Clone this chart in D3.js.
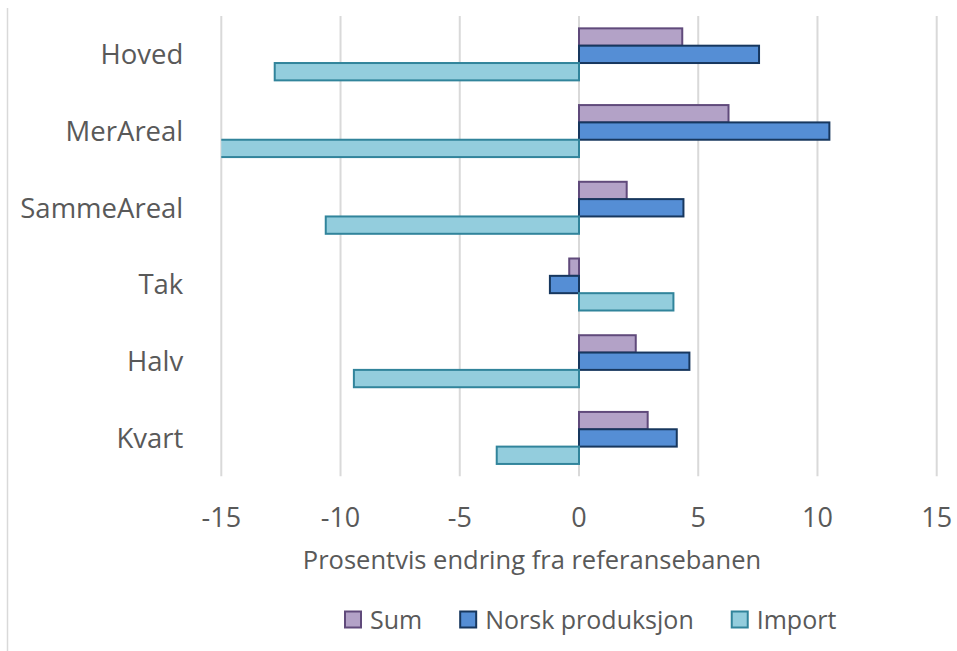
<!DOCTYPE html>
<html>
<head>
<meta charset="utf-8">
<script src="https://cdn.jsdelivr.net/npm/d3@7"></script>
<style>
  html, body { margin: 0; padding: 0; background: #ffffff; }
  svg { display: block; font-family: "Open Sans", Lato, sans-serif; }
  text { fill: #595959; }
</style>
</head>
<body>
<svg id="chart" width="957" height="651"></svg>
<script>
// Scenarios (top to bottom) and their percentage change from the reference path
const categories = ["Hoved", "MerAreal", "SammeAreal", "Tak", "Halv", "Kvart"];
const seriesNames = ["Sum", "Norsk produksjon", "Import"];
const sumValues   = [4.33, 6.27, 2.0, -0.41, 2.38, 2.88];
const norskValues = [7.55, 10.5, 4.38, -1.22, 4.63, 4.1];
const importValues = [-12.76, -15.3, -10.62, 3.96, -9.44, -3.45];
const xTicks = [-15, -10, -5, 0, 5, 10, 15];
const axisTitle = "Prosentvis endring fra referansebanen";

const fills   = ["#b3a2c7", "#558ed5", "#93cddd"];
const strokes = ["#604a7b", "#17375e", "#31849b"];

const svg = d3.select("#chart");
const plot = { left: 221.3, right: 936.7, top: 16, bottom: 476.3 };

const x = d3.scaleLinear().domain([-15, 15]).range([plot.left, plot.right]);
const y0 = d3.scaleBand().domain(categories).range([plot.top, plot.bottom]);
const groupH = y0.bandwidth() / 1.475;
const y1 = d3.scaleBand().domain(seriesNames).range([0, groupH]);

const rows = categories.map((c, i) => ({
  cat: c,
  vals: [sumValues[i], norskValues[i], importValues[i]]
}));

// Chart frame edge on the left
svg.append("line")
  .attr("x1", 7.5).attr("x2", 7.5).attr("y1", 8).attr("y2", 651)
  .attr("stroke", "#d9d9d9").attr("stroke-width", 1.5);

// Vertical gridlines
svg.append("g").selectAll("line").data(xTicks).join("line")
  .attr("x1", d => x(d)).attr("x2", d => x(d))
  .attr("y1", plot.top).attr("y2", plot.bottom)
  .attr("stroke", "#d9d9d9").attr("stroke-width", 2);

svg.append("clipPath").attr("id", "plotClip")
  .append("rect")
  .attr("x", plot.left).attr("y", 0)
  .attr("width", plot.right - plot.left).attr("height", 651);

// Bars
const groups = svg.append("g").attr("clip-path", "url(#plotClip)")
  .selectAll("g").data(rows).join("g")
  .attr("transform", d => `translate(0,${y0(d.cat) + (y0.bandwidth() - groupH) / 2})`);

groups.selectAll("rect")
  .data(d => d.vals.map((v, j) => ({ v, j })))
  .join("rect")
  .attr("x", d => x(Math.min(0, d.v)))
  .attr("width", d => Math.abs(x(d.v) - x(0)))
  .attr("y", d => y1(seriesNames[d.j]))
  .attr("height", y1.bandwidth())
  .attr("fill", d => fills[d.j])
  .attr("stroke", d => strokes[d.j])
  .attr("stroke-width", 2);

// Category labels
svg.append("g").selectAll("text").data(categories).join("text")
  .attr("x", plot.left - 38)
  .attr("y", d => y0(d) + y0.bandwidth() / 2)
  .attr("dy", "0.36em")
  .attr("text-anchor", "end")
  .attr("font-size", 27.5)
  .text(d => d);

// X tick labels
svg.append("g").selectAll("text").data(xTicks).join("text")
  .attr("x", d => x(d))
  .attr("y", 527)
  .attr("text-anchor", "middle")
  .attr("font-size", 27)
  .text(d => d < 0 ? "-" + Math.abs(d) : String(d));

// Axis title
svg.append("text")
  .attr("x", 532).attr("y", 569)
  .attr("text-anchor", "middle")
  .attr("font-size", 25.5)
  .text(axisTitle);

// Legend
const legend = svg.append("g");
let lx = 345;
seriesNames.forEach((name, j) => {
  legend.append("rect")
    .attr("x", lx).attr("y", 611.5)
    .attr("width", 16).attr("height", 16)
    .attr("fill", fills[j]).attr("stroke", strokes[j]).attr("stroke-width", 2);
  const t = legend.append("text")
    .attr("x", lx + 25).attr("y", 628.5)
    .attr("font-size", 25)
    .text(name);
  lx += 25 + t.node().getComputedTextLength() + 38;
});
</script>
</body>
</html>
